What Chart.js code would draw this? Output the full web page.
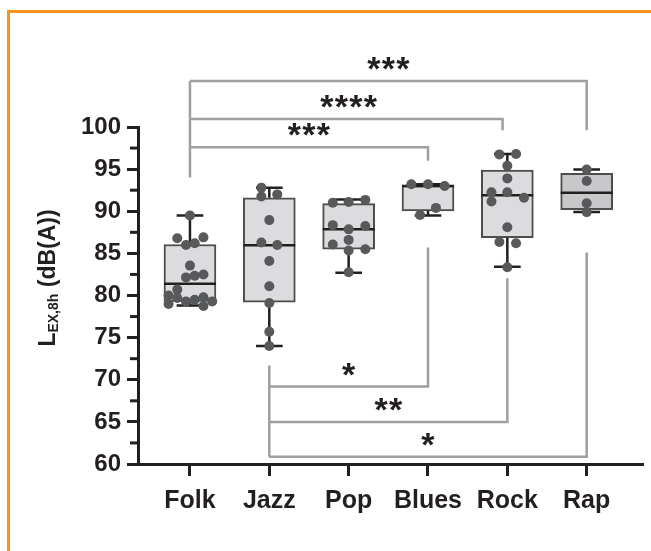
<!DOCTYPE html>
<html>
<head>
<meta charset="utf-8">
<script src="https://cdn.jsdelivr.net/npm/chart.js@4"></script>
<style>
  html, body { margin: 0; padding: 0; background: #fff; overflow: hidden; }
  #frame { position: absolute; left: 7px; top: 10px; width: 700px; height: 600px;
           border-top: 3px solid #f7941d; border-left: 3px solid #f7941d; }
  #myChart { position: absolute; left: 0; top: 0; }
</style>
</head>
<body>
<div id="frame"></div>
<canvas id="myChart" width="651" height="551"></canvas>
<script>
// genres on the x axis
const categories = ['Folk', 'Jazz', 'Pop', 'Blues', 'Rock', 'Rap'];

// box plot summary per genre (dB(A))
const boxMin    = [78.8, 74.0, 82.7, 89.5, 83.4, 89.9];
const boxQ1     = [79.3, 79.2, 85.5, 90.05, 86.85, 90.2];
const boxMedian = [81.4, 85.95, 87.85, 93.0, 91.9, 92.2];
const boxQ3     = [86.05, 91.6, 90.9, 93.05, 94.9, 94.5];
const boxMax    = [89.5, 92.8, 91.4, 93.2, 96.8, 94.95];

// single measurements, with their sideways jitter (in category units)
const folkValues  = [89.5, 86.8, 86.0, 86.2, 86.9, 83.55, 82.15, 82.35, 82.5, 80.7, 80.0, 79.7, 79.0, 79.3, 79.5, 79.8, 79.3, 78.75];
const folkJitter  = [0, -0.16, -0.05, 0.06, 0.17, 0, -0.05, 0.06, 0.17, -0.16, -0.27, -0.16, -0.27, -0.05, 0.06, 0.17, 0.28, 0.17];
const jazzValues  = [92.8, 91.75, 92.0, 88.95, 86.3, 86.0, 84.1, 81.1, 79.1, 75.7, 74.0];
const jazzJitter  = [-0.1, -0.1, 0.1, 0, -0.1, 0.1, 0, 0, 0, 0, 0];
const popValues   = [91.0, 91.1, 91.35, 88.35, 87.85, 88.25, 86.6, 86.05, 85.35, 85.5, 82.75];
const popJitter   = [-0.2, 0, 0.21, -0.2, 0, 0.21, 0, -0.2, 0, 0.21, 0];
const bluesValues = [93.2, 93.2, 93.0, 90.4, 89.55];
const bluesJitter = [-0.21, 0, 0.21, 0.1, -0.1];
const rockValues  = [96.75, 96.8, 95.4, 93.9, 92.25, 92.25, 91.15, 91.6, 88.1, 86.35, 86.2, 83.35];
const rockJitter  = [-0.1, 0.11, 0, 0, -0.2, 0, -0.2, 0.21, 0, -0.1, 0.11, 0];
const rapValues   = [94.95, 93.6, 90.95, 89.9];
const rapJitter   = [0, 0, 0, 0];

// significance brackets: [from, to] category index, bar level, where the right leg ends
const upperPairs = [[0, 3], [0, 4], [0, 5]];
const upperLevel = [97.6, 100.95, 105.45];
const upperEnd   = [96.0, 99.6, 99.6];
const upperStars = ['***', '****', '***'];
const upperStart = 94.0;
const lowerPairs = [[1, 3], [1, 4], [1, 5]];
const lowerLevel = [69.2, 65.0, 60.85];
const lowerEnd   = [85.7, 82.05, 85.1];
const lowerStars = ['*', '**', '*'];
const lowerStart = 71.7;

const ink = '#231f20';
const bracketGray = '#9d9fa2';
const FONT = 'Liberation Sans, Arial, sans-serif';

// build the point list
const groups = [
    [folkValues, folkJitter], [jazzValues, jazzJitter], [popValues, popJitter],
    [bluesValues, bluesJitter], [rockValues, rockJitter], [rapValues, rapJitter]
];
var points = [];
groups.forEach(function(g, i){
    g[0].forEach(function(v, k){
        points.push({x: i + 1 + g[1][k], y: v});
    });
});

// whiskers, caps and medians as broken lines
var whiskers = [];
var medians = [];
const capHalf = 0.168;
const boxHalf = 0.327;
categories.forEach(function(c, i){
    var x = i + 1;
    whiskers.push({x: x, y: boxMax[i]}, {x: x, y: boxQ3[i]}, {x: x, y: null});
    whiskers.push({x: x, y: boxQ1[i]}, {x: x, y: boxMin[i]}, {x: x, y: null});
    whiskers.push({x: x - capHalf, y: boxMax[i]}, {x: x + capHalf, y: boxMax[i]}, {x: x, y: null});
    whiskers.push({x: x - capHalf, y: boxMin[i]}, {x: x + capHalf, y: boxMin[i]}, {x: x, y: null});
    medians.push({x: x - boxHalf, y: boxMedian[i]}, {x: x + boxHalf, y: boxMedian[i]}, {x: x, y: null});
});

// bracket lines
var brackets = [];
brackets.push({x: upperPairs[0][0] + 1, y: upperStart}, {x: upperPairs[0][0] + 1, y: upperLevel[2]}, {x: 1, y: null});
upperPairs.forEach(function(p, k){
    var rx = p[1] + 1 - (p[1] == 4 ? 0.06 : 0);
    brackets.push({x: p[0] + 1, y: upperLevel[k]}, {x: rx, y: upperLevel[k]}, {x: rx, y: upperEnd[k]}, {x: rx, y: null});
});
brackets.push({x: lowerPairs[0][0] + 1, y: lowerStart}, {x: lowerPairs[0][0] + 1, y: lowerLevel[2]}, {x: 2, y: null});
lowerPairs.forEach(function(p, k){
    var rx = p[1] + 1;
    brackets.push({x: p[0] + 1, y: lowerLevel[k]}, {x: rx, y: lowerLevel[k]}, {x: rx, y: lowerEnd[k]}, {x: rx, y: null});
});

// stars, y-axis title and minor ticks
const extras = {
    id: 'extras',
    afterDraw: function(chart){
        const ctx = chart.ctx;
        const xs = chart.scales.x, ys = chart.scales.y;
        ctx.save();
        // minor ticks
        ctx.strokeStyle = ink;
        ctx.lineWidth = 3;
        for (var v = 62.5; v < 100; v += 5) {
            var py = ys.getPixelForValue(v);
            ctx.beginPath();
            ctx.moveTo(chart.chartArea.left - 8, py);
            ctx.lineTo(chart.chartArea.left, py);
            ctx.stroke();
        }
        // stars
        ctx.fillStyle = ink;
        ctx.font = 'bold 34px ' + FONT;
        ctx.textAlign = 'center';
        ctx.textBaseline = 'alphabetic';
        function stars(txt, a, b, level){
            var cx = (xs.getPixelForValue(a + 1) + xs.getPixelForValue(b + 1)) / 2;
            var cy = ys.getPixelForValue(level + 2.0);
            var n = txt.length;
            for (var s = 0; s < n; s++) {
                ctx.fillText('*', cx + (s - (n - 1) / 2) * 14.5, cy + 16);
            }
        }
        upperPairs.forEach(function(p, k){ stars(upperStars[k], p[0], p[1], upperLevel[k]); });
        lowerPairs.forEach(function(p, k){ stars(lowerStars[k], p[0], p[1], lowerLevel[k]); });
        // y title with subscript
        var big = 'bold 23px ' + FONT, small = 'bold 14px ' + FONT;
        ctx.font = big;
        var wL = ctx.measureText('L').width;
        var wR = ctx.measureText(' (dB(A))').width;
        ctx.font = small;
        var wS = ctx.measureText('EX,8h').width;
        var total = wL + wS + wR;
        ctx.translate(55, 278);
        ctx.rotate(-Math.PI / 2);
        ctx.textAlign = 'left';
        var x0 = -total / 2;
        ctx.font = big;
        ctx.fillText('L', x0, 0);
        ctx.font = small;
        ctx.fillText('EX,8h', x0 + wL, 3);
        ctx.font = big;
        ctx.fillText(' (dB(A))', x0 + wL + wS, 0);
        ctx.restore();
    }
};

const ctx = document.getElementById('myChart').getContext('2d');
const myChart = new Chart(ctx, {
    type: 'bar',
    data: {
        datasets: [{
            type: 'scatter',
            data: points,
            pointRadius: 5,
            pointBackgroundColor: '#58595b',
            pointBorderWidth: 0,
            order: 0
        }, {
            type: 'line',
            data: medians,
            borderColor: ink,
            borderWidth: 2.5,
            pointRadius: 0,
            spanGaps: false,
            order: 1
        }, {
            type: 'line',
            data: whiskers,
            borderColor: ink,
            borderWidth: 2.5,
            pointRadius: 0,
            spanGaps: false,
            order: 1
        }, {
            type: 'bar',
            data: categories.map(function(c, i){ return {x: i + 1, y: [boxQ1[i], boxQ3[i]]}; }),
            backgroundColor: categories.map(function(c, i){ return c == 'Rap' ? '#c8c8ca' : '#dcdcde'; }),
            borderColor: '#4d4d4f',
            borderWidth: 2,
            borderSkipped: false,
            barThickness: 52,
            order: 2
        }, {
            type: 'line',
            data: brackets,
            borderColor: bracketGray,
            borderWidth: 2.5,
            pointRadius: 0,
            spanGaps: false,
            clip: false,
            order: 3
        }]
    },
    options: {
        responsive: false,
        animation: false,
        layout: { padding: { top: 127, right: 8, left: 0, bottom: 0 } },
        plugins: {
            legend: { display: false },
            tooltip: { enabled: false }
        },
        scales: {
            x: {
                type: 'linear',
                min: 0.345,
                max: 6.71,
                offset: false,
                afterBuildTicks: function(s){
                    s.ticks = categories.map(function(c, i){ return {value: i + 1}; });
                },
                afterFit: function(s){ s.height = 87; },
                ticks: {
                    autoSkip: false,
                    maxRotation: 0,
                    padding: 10,
                    color: ink,
                    font: { family: FONT, size: 25, weight: 'bold' },
                    callback: function(v){ return categories[v - 1]; }
                },
                grid: { offset: false, drawOnChartArea: false, tickLength: 12, tickWidth: 3, tickColor: ink },
                border: { display: true, width: 3, color: ink }
            },
            y: {
                min: 60,
                max: 100,
                afterFit: function(s){ s.width = 138; },
                ticks: {
                    stepSize: 5,
                    padding: 6,
                    color: ink,
                    font: { family: FONT, size: 24, weight: 'bold' }
                },
                grid: { drawOnChartArea: false, tickLength: 11, tickWidth: 3, tickColor: ink },
                border: { display: true, width: 3, color: ink }
            }
        }
    },
    plugins: [extras]
});
</script>
</body>
</html>
